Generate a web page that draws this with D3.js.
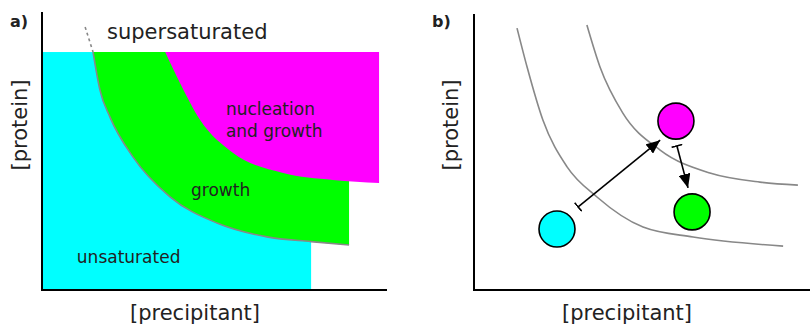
<!DOCTYPE html>
<html>
<head>
<meta charset="utf-8">
<script src="https://cdn.jsdelivr.net/npm/d3@7"></script>
<style>
  body { margin: 0; background: #fff; }
  text { font-family: "DejaVu Sans", sans-serif; fill: #222; }
</style>
</head>
<body>
<script>
// panel a: phase diagram regions (units 0-100 on both axes)
const solubility = [[14.8, 85.6], [16.8, 71.9], [19.7, 62.2], [26.4, 47.8], [37.1, 33.5], [50.7, 24.1], [65.2, 19.1], [78.0, 17.4], [89.0, 16.2]];
const solubilityDash = [[12.5, 94.6], [14.8, 85.6]];
const nucleation = [[35.7, 85.6], [40.0, 74.5], [45.8, 61.2], [55.4, 49.3], [69.9, 42.1], [84.3, 39.6], [97.7, 38.5]];
const topLevel = 85.6;
const cyanRight = 78.0;
const regionLabels = [
  { lines: ["nucleation", "and growth"], x: 53.3, y: 62.9 },
  { lines: ["growth"], x: 43.2, y: 33.8 },
  { lines: ["unsaturated"], x: 10.1, y: 9.7 }
];

// panel b: two boundaries, three drops, two moves
const curveA = [[12.8, 94.9], [15.8, 80.8], [20.5, 61.6], [27.7, 44.6], [36.6, 33.7], [50.3, 22.8], [65.2, 19.2], [92.0, 15.9]];
const curveB = [[33.6, 96.0], [37.5, 80.8], [44.3, 64.1], [55.4, 50.7], [70.2, 42.4], [85.1, 39.1], [96.4, 38.0]];
const drops = [
  { x: 24.7, y: 22.1, color: "#00ffff" },
  { x: 60.1, y: 61.2, color: "#ff00ff" },
  { x: 64.9, y: 28.3, color: "#00ff00" }
];
const moves = [
  [[31.0, 30.1], [55.4, 54.3]],
  [[60.4, 52.2], [63.7, 37.0]]
];

const svg = d3.select("body").append("svg").attr("width", 810).attr("height", 327);

const defs = svg.append("defs");
defs.append("marker").attr("id", "head")
  .attr("markerUnits", "userSpaceOnUse")
  .attr("viewBox", "0 -6 14 12").attr("refX", 14).attr("refY", 0)
  .attr("markerWidth", 14).attr("markerHeight", 12).attr("orient", "auto")
  .append("path").attr("d", "M0,-6L14,0L0,6Z").attr("fill", "#000");
defs.append("marker").attr("id", "bar")
  .attr("markerUnits", "userSpaceOnUse")
  .attr("viewBox", "-1 -6 2 12").attr("refX", 0).attr("refY", 0)
  .attr("markerWidth", 2).attr("markerHeight", 12).attr("orient", "auto")
  .append("path").attr("d", "M0,-5.5L0,5.5").attr("stroke", "#000").attr("stroke-width", 1.6);

// ---- panel a ----
const xa = d3.scaleLinear().domain([0, 100]).range([42, 387]);
const ya = d3.scaleLinear().domain([0, 100]).range([290, 12]);
const ga = svg.append("g");

ga.append("rect")
  .attr("x", xa(0)).attr("y", ya(topLevel))
  .attr("width", xa(cyanRight) - xa(0)).attr("height", ya(0) - ya(topLevel))
  .attr("fill", "#00ffff");

const areaA = d3.area().x(d => xa(d[0])).y0(d => ya(d[1])).y1(ya(topLevel)).curve(d3.curveMonotoneX);
ga.append("path").datum(solubility).attr("d", areaA).attr("fill", "#00ff00");
ga.append("path").datum(nucleation).attr("d", areaA).attr("fill", "#ff00ff");

const lineA = d3.line().x(d => xa(d[0])).y(d => ya(d[1])).curve(d3.curveMonotoneX);
ga.append("path").datum(solubility).attr("d", lineA)
  .attr("fill", "none").attr("stroke", "#888").attr("stroke-width", 1.6);
ga.append("path").datum(solubilityDash).attr("d", d3.line().x(d => xa(d[0])).y(d => ya(d[1])))
  .attr("fill", "none").attr("stroke", "#888").attr("stroke-width", 1.6).attr("stroke-dasharray", "3,3");

ga.append("path")
  .attr("d", `M${xa(0)},${ya(100)}V${ya(0)}H${xa(100)}`)
  .attr("fill", "none").attr("stroke", "#000").attr("stroke-width", 2);

regionLabels.forEach(l => {
  const t = ga.append("text").attr("x", xa(l.x)).attr("y", ya(l.y)).attr("font-size", 17).attr("fill", "#111");
  l.lines.forEach((s, i) => t.append("tspan").attr("x", xa(l.x)).attr("dy", i ? 21.5 : 0).text(s));
});
ga.append("text").attr("x", 107).attr("y", 39).attr("font-size", 21).text("supersaturated");
ga.append("text").attr("x", 10).attr("y", 27).attr("font-size", 16).attr("font-weight", "bold").attr("fill", "#000").text("a)");
ga.append("text").attr("x", 195).attr("y", 320)
  .attr("text-anchor", "middle").attr("font-size", 21).text("[precipitant]");
ga.append("text").attr("transform", `translate(27,125) rotate(-90)`)
  .attr("text-anchor", "middle").attr("font-size", 21).text("[protein]");

// ---- panel b ----
const xb = d3.scaleLinear().domain([0, 100]).range([474, 810]);
const yb = d3.scaleLinear().domain([0, 100]).range([290, 14]);
const gb = svg.append("g");
const lineB = d3.line().x(d => xb(d[0])).y(d => yb(d[1])).curve(d3.curveMonotoneX);

gb.selectAll("path.boundary").data([curveA, curveB]).enter().append("path")
  .attr("class", "boundary").attr("d", lineB)
  .attr("fill", "none").attr("stroke", "#888").attr("stroke-width", 1.6);

gb.selectAll("line.move").data(moves).enter().append("line")
  .attr("class", "move")
  .attr("x1", d => xb(d[0][0])).attr("y1", d => yb(d[0][1]))
  .attr("x2", d => xb(d[1][0])).attr("y2", d => yb(d[1][1]))
  .attr("stroke", "#000").attr("stroke-width", 1.6)
  .attr("marker-start", "url(#bar)").attr("marker-end", "url(#head)");

gb.selectAll("circle").data(drops).enter().append("circle")
  .attr("cx", d => xb(d.x)).attr("cy", d => yb(d.y)).attr("r", 18)
  .attr("fill", d => d.color).attr("stroke", "#000").attr("stroke-width", 1.6);

gb.append("path")
  .attr("d", `M${xb(0)},${yb(100)}V${yb(0)}H${xb(100)}`)
  .attr("fill", "none").attr("stroke", "#000").attr("stroke-width", 2);

gb.append("text").attr("x", 432).attr("y", 27).attr("font-size", 16).attr("font-weight", "bold").attr("fill", "#000").text("b)");
gb.append("text").attr("x", 627).attr("y", 320)
  .attr("text-anchor", "middle").attr("font-size", 21).text("[precipitant]");
gb.append("text").attr("transform", `translate(458,125) rotate(-90)`)
  .attr("text-anchor", "middle").attr("font-size", 21).text("[protein]");
</script>
</body>
</html>
